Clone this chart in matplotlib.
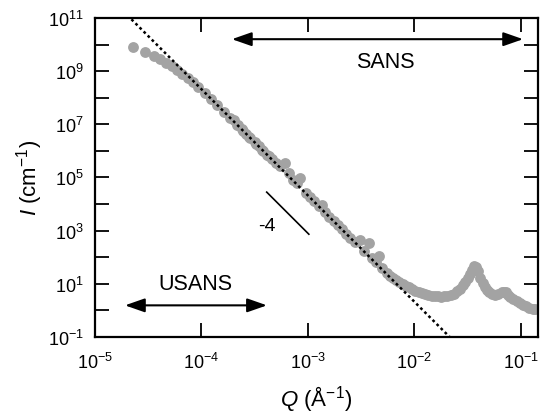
import matplotlib
matplotlib.use("Agg")
import matplotlib.pyplot as plt
import numpy as np

plt.rcParams["font.family"] = ["Liberation Sans", "DejaVu Sans"]
plt.rcParams["mathtext.fontset"] = "custom"
plt.rcParams["mathtext.rm"] = "Liberation Sans"
plt.rcParams["mathtext.it"] = "Liberation Sans:italic"

# scattering curve (Q in 1/Angstrom, I in 1/cm)
q_values = [
    2.29e-5, 2.95e-5, 3.55e-5, 4.07e-5, 4.68e-5, 5.25e-5, 5.89e-5, 6.61e-5,
    7.41e-5, 8.32e-5, 9.33e-5, 1.07e-4, 1.23e-4, 1.41e-4, 1.62e-4, 1.86e-4,
    2.14e-4, 2.45e-4, 2.82e-4, 3.24e-4, 3.72e-4, 4.27e-4,
    2.00e-4, 2.19e-4, 2.40e-4, 2.63e-4, 2.88e-4, 3.16e-4, 3.47e-4, 3.80e-4,
    4.17e-4, 4.57e-4, 5.01e-4, 5.50e-4, 6.03e-4, 6.61e-4, 7.24e-4, 7.94e-4,
    8.51e-4, 9.55e-4, 1.05e-3, 1.15e-3, 1.26e-3, 1.35e-3, 1.45e-3, 1.58e-3,
    1.74e-3, 1.91e-3, 2.09e-3, 2.29e-3, 2.51e-3, 2.75e-3, 3.09e-3, 3.39e-3,
    3.72e-3, 3.98e-3, 4.37e-3, 4.68e-3, 5.01e-3,
    5.50e-3, 5.89e-3, 6.31e-3, 6.76e-3, 7.24e-3, 7.76e-3, 8.32e-3, 8.91e-3,
    9.55e-3, 1.02e-2, 1.10e-2, 1.17e-2, 1.26e-2, 1.35e-2, 1.45e-2, 1.55e-2,
    1.66e-2, 1.78e-2, 1.91e-2, 2.04e-2, 2.19e-2, 2.34e-2, 2.51e-2, 2.69e-2,
    2.88e-2, 3.02e-2, 3.16e-2, 3.31e-2, 3.47e-2, 3.63e-2, 3.80e-2, 3.98e-2,
    4.17e-2, 4.37e-2, 4.57e-2, 4.79e-2, 5.01e-2, 5.37e-2, 5.75e-2, 6.17e-2,
    6.61e-2, 6.92e-2, 7.24e-2, 7.59e-2, 7.94e-2, 8.51e-2, 9.12e-2, 9.77e-2,
    0.105, 0.112, 0.120, 0.129, 0.135,
]
i_values = [
    7.94e9, 5.37e9, 3.80e9, 2.88e9, 2.09e9, 1.58e9, 1.15e9, 8.13e8,
    5.62e8, 3.80e8, 2.51e8, 1.51e8, 9.12e7, 5.13e7, 2.88e7, 1.74e7,
    9.77e6, 5.75e6, 3.24e6, 1.86e6, 1.10e6, 6.31e5,
    1.41e7, 9.12e6, 6.61e6, 4.37e6, 3.16e6, 2.09e6, 1.51e6, 1.00e6,
    7.24e5, 5.01e5, 3.63e5, 2.63e5, 3.47e5, 1.51e5, 8.32e4, 6.31e4,
    9.12e4, 2.63e4, 1.82e4, 1.26e4, 8.71e3, 9.55e3, 4.79e3, 3.31e3,
    2.29e3, 1.58e3, 1.10e3, 7.59e2, 5.25e2, 3.63e2, 4.37e2, 1.66e2,
    3.47e2, 95.5, 66.1, 107.0, 39.8,
    25.1, 20.0, 16.6, 13.8, 11.5, 9.77, 8.32, 7.24,
    6.17, 5.50, 4.90, 4.37, 3.98, 3.72, 3.55, 3.39,
    3.31, 3.24, 3.31, 3.47, 3.80, 4.27, 5.13, 6.31,
    8.71, 11.5, 15.8, 22.9, 33.9, 44.7, 43.7, 30.2,
    16.6, 10.5, 7.59, 5.89, 4.90, 4.17, 3.89, 4.17,
    4.79, 5.01, 4.68, 3.89, 3.24, 2.69, 2.24, 1.91,
    1.62, 1.41, 1.26, 1.15, 1.10,
]

# Porod power law drawn as dashed guide
porod_prefactor = 2.09e-8
porod_exponent = -4
porod_q_range = [1.0e-5, 2.5e-2]

# short slope marker and its label
slope_q = [4.1e-4, 1.02e-3]
slope_i = [2.8e4, 7.3e2]
slope_label = "-4"
slope_label_pos = (4.1e-4, 1.5e3)

sans_range = [1.93e-4, 0.105]
sans_y = 1.6e10
sans_text_pos = (5.3e-3, 2.4e9)
usans_range = [1.91e-5, 4.12e-4]
usans_y = 1.53
usans_text_pos = (8.8e-5, 10.0)

x_decades = [-5, -4, -3, -2, -1]
y_decades = list(range(-1, 12))

fig = plt.figure(figsize=(5.4, 4.14), dpi=100)
ax = fig.add_axes([0.176, 0.184, 0.820, 0.770])

ax.plot(q_values, i_values, "o", color="#a3a3a3", markersize=7.8,
        markeredgewidth=0, zorder=2)

q_line = np.logspace(np.log10(porod_q_range[0]), np.log10(porod_q_range[1]), 200)
ax.plot(q_line, porod_prefactor * q_line ** porod_exponent, color="black",
        lw=1.8, dashes=(1.1, 1.2), zorder=3)

ax.plot(slope_q, slope_i, color="black", lw=1.2, zorder=3)
ax.text(*slope_label_pos, slope_label, fontsize=14, ha="center", va="center")

arrow = dict(arrowstyle="<|-|>,head_length=0.4,head_width=0.14",
             color="black", lw=1.5, mutation_scale=30, shrinkA=0, shrinkB=0)
ax.annotate("", xy=(sans_range[1], sans_y), xytext=(sans_range[0], sans_y),
            arrowprops=arrow)
ax.text(*sans_text_pos, "SANS", fontsize=15.5, ha="center", va="center")
ax.annotate("", xy=(usans_range[1], usans_y), xytext=(usans_range[0], usans_y),
            arrowprops=arrow)
ax.text(*usans_text_pos, "USANS", fontsize=15.5, ha="center", va="center")

ax.set_xscale("log")
ax.set_yscale("log")
ax.set_xlim(1e-5, 0.1445)
ax.set_ylim(1e-1, 1e11)

ax.set_xticks([10.0 ** d for d in x_decades],
              labels=[r"$10^{%d}$" % d for d in x_decades])
ax.set_yticks([10.0 ** d for d in y_decades],
              labels=[r"$10^{%d}$" % d if d % 2 else "" for d in y_decades])
ax.minorticks_off()
ax.tick_params(which="major", direction="in", length=10, width=1.3,
               top=True, right=True, labelsize=13)
ax.tick_params(axis="x", pad=11)
ax.tick_params(axis="y", pad=8)
for spine in ax.spines.values():
    spine.set_linewidth(1.6)

ax.set_xlabel(r"$Q$ (Å$^{\mathrm{-1}}$)", fontsize=16, labelpad=8)
ax.set_ylabel(r"$I$ (cm$^{\mathrm{-1}}$)", fontsize=16, labelpad=2)

fig.savefig("out.png", dpi=100)
